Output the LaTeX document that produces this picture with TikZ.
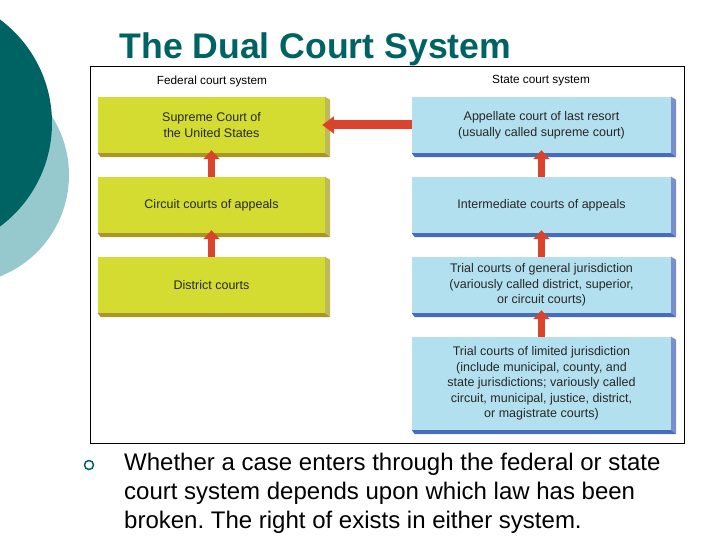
\documentclass[tikz,border=0pt]{standalone}
\usepackage{fontspec}
\setmainfont{Liberation Sans}
\usepackage{xcolor}
\usetikzlibrary{arrows.meta}
\frenchspacing
\definecolor{tealdark}{RGB}{0,99,99}
\definecolor{teallight}{RGB}{150,201,206}
\definecolor{fedface}{RGB}{212,220,50}
\definecolor{fedbottom}{RGB}{168,150,40}
\definecolor{fedside}{RGB}{190,186,92}
\definecolor{stateface}{RGB}{178,224,238}
\definecolor{statebottom}{RGB}{72,108,186}
\definecolor{stateside}{RGB}{122,142,204}
\definecolor{arrowred}{RGB}{218,68,44}
\definecolor{boxtext}{RGB}{40,40,40}
\tikzset{ fed_box/.style = {rectangle, fill=fedface, text=boxtext, minimum width=227pt, minimum height=56pt, inner sep=0pt, align=center, font=\fontsize{12.5}{16}\selectfont} }
\tikzset{ state_box/.style = {rectangle, fill=stateface, text=boxtext, minimum width=259pt, minimum height=56pt, inner sep=0pt, align=center, font=\fontsize{12.5}{15.6}\selectfont} }
\tikzset{ heading/.style = {font=\fontsize{11.8}{14}\selectfont} }
\tikzset{ up_arrow/.style = {draw=arrowred, line width=7pt, -{Triangle[width=16pt,length=9pt]}, shorten >=-3pt} }
\tikzset{ left_arrow/.style = {draw=arrowred, line width=9pt, -{Triangle[width=17pt,length=12pt]}, shorten >=-3pt} }
\begin{document}
\begin{tikzpicture}[x=1pt, y=-1pt]
            \useasboundingbox (0,0) rectangle (720,540);
            \clip (0,0) rectangle (720,540);
            \fill[teallight] (-40,175) circle (109pt);
            \fill[tealdark] (-77,123) circle (129pt);
            \node [anchor=base west, text=tealdark, font=\fontsize{35.6}{40}\selectfont\bfseries] (title) at (116,59) {The Dual Court System};
            \draw[line width=0.8pt] (90,66) rectangle (684,443);
            \node [heading] (fed) at (212,81) {Federal court system};
            \node [heading] (state) at (541,81) {State court system};
            \node [fed_box] (F1) at (211.5,125) {Supreme Court of\\the United States};
            \node [fed_box] (F2) at (211.5,205) {Circuit courts of appeals};
            \node [fed_box] (F3) at (211.5,285) {District courts};
            \node [state_box] (S1) at (541.5,125) {Appellate court of last resort\\(usually called supreme court)};
            \node [state_box] (S2) at (541.5,205) {Intermediate courts of appeals};
            \node [state_box] (S3) at (541.5,285) {Trial courts of general jurisdiction\\(variously called district, superior,\\or circuit courts)};
            \node [state_box, minimum height=93pt] (S4) at (541.5,383.5) {Trial courts of limited jurisdiction\\(include municipal, county, and\\state jurisdictions; variously called\\circuit, municipal, justice, district,\\or magistrate courts)};
            % bevelled edges under and right of the boxes
            \foreach \n/\side/\bottom in {F1/fedside/fedbottom, F2/fedside/fedbottom, F3/fedside/fedbottom, S1/stateside/statebottom, S2/stateside/statebottom, S3/stateside/statebottom, S4/stateside/statebottom} {
                \fill[\side] (\n.north east) -- ([shift={(5,3)}]\n.north east) -- ([shift={(5,4)}]\n.south east) -- (\n.south east) -- cycle;
                \fill[\bottom] (\n.south west) -- (\n.south east) -- ([shift={(5,4)}]\n.south east) -- ([shift={(3,4)}]\n.south west) -- cycle;
            }
            \draw[up_arrow] (F3) to (F2);
            \draw[up_arrow] (F2) to (F1);
            \draw[up_arrow] (S4) to (S3);
            \draw[up_arrow] (S3) to (S2);
            \draw[up_arrow] (S2) to (S1);
            \draw[left_arrow] (S1.west) to (F1.east);
            \draw[tealdark, line width=1.5pt] (89,465) circle (4.5pt);
            \node [anchor=north west, inner sep=0pt, align=left, font=\fontsize{24}{29}\selectfont] (text) at (124,453) {Whether a case enters through the federal or state\\court system depends upon which law has been\\broken. The right of exists in either system.};
        \end{tikzpicture}
\end{document}
